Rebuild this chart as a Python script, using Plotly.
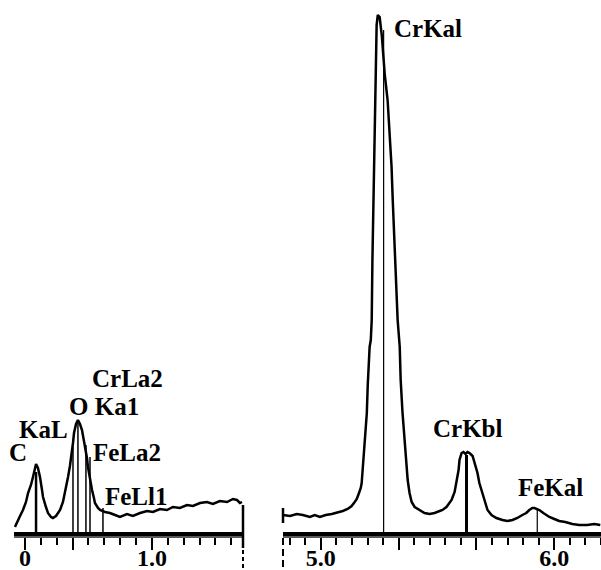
import plotly.graph_objects as go

# ---- Data (energy in keV, intensity in arbitrary counts) ----
low_energy = [-0.079, -0.063, -0.039, -0.016, 0.008, 0.024, 0.047, 0.063, 0.079, 0.087,
              0.102, 0.118, 0.134, 0.142, 0.165, 0.181, 0.205, 0.220, 0.244, 0.260,
              0.276, 0.299, 0.315, 0.331, 0.339, 0.354, 0.370, 0.378, 0.386, 0.402,
              0.417, 0.433, 0.449, 0.465, 0.472, 0.488, 0.496, 0.512, 0.528, 0.543,
              0.551, 0.575, 0.591, 0.630, 0.669, 0.709, 0.748, 0.803, 0.850, 0.906,
              0.961, 1.008, 1.063, 1.118, 1.165, 1.220, 1.276, 1.323, 1.378, 1.433,
              1.480, 1.535, 1.591, 1.638, 1.669, 1.693, 1.709]
low_counts = [5, 10, 16, 22, 30, 39, 47, 55, 65, 68,
              64, 55, 42, 35, 25, 19, 15, 14, 16, 19,
              22, 30, 39, 48, 55, 66, 79, 89, 99, 108,
              112, 108, 102, 92, 85, 74, 65, 52, 42, 34,
              29, 24, 22, 20, 19, 17, 15, 18, 16, 19,
              21, 20, 23, 22, 25, 24, 27, 26, 29, 30,
              28, 31, 30, 33, 32, 29, 30]

high_energy = [4.838, 4.868, 4.897, 4.923, 4.953, 4.974, 4.996, 5.021, 5.047, 5.068,
               5.094, 5.115, 5.132, 5.145, 5.154, 5.162, 5.171, 5.175, 5.179, 5.184,
               5.188, 5.197, 5.201, 5.209, 5.214, 5.218, 5.221, 5.223, 5.226, 5.229,
               5.232, 5.235, 5.239, 5.244, 5.252, 5.261, 5.265, 5.274, 5.286, 5.295,
               5.303, 5.308, 5.316, 5.325, 5.329, 5.338, 5.342, 5.350, 5.359, 5.368,
               5.372, 5.380, 5.389, 5.402, 5.423, 5.444, 5.466, 5.487, 5.509, 5.521,
               5.538, 5.551, 5.560, 5.573, 5.581, 5.590, 5.594, 5.603, 5.611, 5.620,
               5.628, 5.637, 5.650, 5.658, 5.671, 5.679, 5.692, 5.705, 5.714, 5.731,
               5.752, 5.778, 5.799, 5.821, 5.842, 5.863, 5.880, 5.893, 5.906, 5.915,
               5.927, 5.936, 5.953, 5.966, 5.979, 6.000, 6.021, 6.047, 6.077, 6.107,
               6.141, 6.171, 6.197]
high_counts = [17, 16, 18, 17, 15, 17, 15, 17, 18, 19,
               21, 23, 26, 30, 33, 38, 44, 49, 62, 75,
               92, 119, 147, 185, 192, 212, 272, 299, 332, 365,
               432, 472, 507, 517, 515, 497, 482, 457, 432, 402,
               365, 332, 282, 242, 212, 185, 152, 119, 92, 69,
               52, 39, 30, 25, 22, 19, 18, 19, 21, 22,
               25, 29, 32, 40, 49, 62, 72, 79, 80, 78,
               80, 79, 76, 69, 59, 49, 39, 29, 22, 17,
               14, 12, 11, 12, 14, 17, 19, 22, 24, 24,
               23, 22, 19, 17, 15, 13, 11, 10, 8, 7,
               7, 8, 7]

# element marker lines: energy, height
low_lines_thick_e = [0.087]
low_lines_thick_h = [60]
low_lines_thin_e = [0.378, 0.417, 0.480, 0.512, 0.614]
low_lines_thin_h = [85, 112, 87, 75, 24]
high_lines_thick_e = [5.624]
high_lines_thick_h = [77]
high_lines_thin_e = [5.269, 5.927]
high_lines_thin_h = [502, 22]

low_labels = ["C", "KaL", "O Ka1", "CrLa2", "FeLa2", "FeLl1"]
low_label_e = [-0.055, 0.142, 0.622, 0.811, 0.803, 0.882]
low_label_c = [80, 103, 126, 154, 80, 36]
high_labels = ["CrKal", "CrKbl", "FeKal"]
high_label_e = [5.457, 5.632, 5.983]
high_label_c = [504, 104, 45]

low_tickvals = [0, 0.375, 1.0]
low_ticktext = ["0", "", "1.0"]
high_tickvals = [5.0, 5.0 + 1/3, 5.0 + 2/3, 6.0]
high_ticktext = ["5.0", "", "", "6.0"]


def stems(es, hs):
    xs, ys = [], []
    for e, h in zip(es, hs):
        xs += [e, e, None]
        ys += [0, h, None]
    return xs, ys


fig = go.Figure()
fig.add_trace(go.Scatter(x=low_energy, y=low_counts, mode="lines",
                         line=dict(color="black", width=2.5), xaxis="x", yaxis="y"))
fig.add_trace(go.Scatter(x=high_energy, y=high_counts, mode="lines",
                         line=dict(color="black", width=2.5), xaxis="x2", yaxis="y2"))
for es, hs, w, ax, ay in [(low_lines_thick_e, low_lines_thick_h, 2.5, "x", "y"),
                          (low_lines_thin_e, low_lines_thin_h, 1.5, "x", "y"),
                          (high_lines_thick_e, high_lines_thick_h, 3, "x2", "y2"),
                          (high_lines_thin_e, high_lines_thin_h, 1.2, "x2", "y2")]:
    xs, ys = stems(es, hs)
    fig.add_trace(go.Scatter(x=xs, y=ys, mode="lines", line=dict(color="black", width=w),
                             xaxis=ax, yaxis=ay))

lab_font = dict(family="Liberation Serif", size=25, color="black", weight="bold")
tick_font = dict(family="Liberation Serif", size=24, color="black", weight="bold")
for t, e, c in zip(low_labels, low_label_e, low_label_c):
    fig.add_annotation(x=e, y=c, xref="x", yref="y", text=t, showarrow=False, font=lab_font)
for t, e, c in zip(high_labels, high_label_e, high_label_c):
    fig.add_annotation(x=e, y=c, xref="x2", yref="y2", text=t, showarrow=False, font=lab_font)

W, H = 601, 570
B = 38
PH = H - B
L0, L1, R0 = 14 / W, 243 / W, 283 / W

axis_common = dict(showline=True, linewidth=6, linecolor="black", ticks="outside",
                   ticklen=12, tickwidth=2, tickcolor="black", showgrid=False,
                   zeroline=False, tickfont=tick_font, ticklabelstandoff=-13,
                   automargin=False, fixedrange=True)
fig.update_layout(
    width=W, height=H,
    margin=dict(l=0, r=0, t=0, b=B, autoexpand=False),
    paper_bgcolor="white", plot_bgcolor="white",
    showlegend=False,
    xaxis=dict(domain=[L0, L1], range=[-0.0866, 1.717], tickmode="array",
               tickvals=low_tickvals, ticktext=low_ticktext,
               minor=dict(ticks="outside", tickmode="linear", tick0=0, dtick=0.125,
                          ticklen=7, tickwidth=1.5, tickcolor="black"),
               anchor="y", **axis_common),
    xaxis2=dict(domain=[R0, 1.0], range=[4.838, 6.2], tickmode="array",
                tickvals=high_tickvals, ticktext=high_ticktext,
                minor=dict(ticks="outside", tickmode="linear", tick0=5.0, dtick=1 / 15,
                           ticklen=7, tickwidth=1.5, tickcolor="black"),
                anchor="y2", **axis_common),
    yaxis=dict(range=[0, PH], visible=False, domain=[0, 1], fixedrange=True, automargin=False),
    yaxis2=dict(range=[0, PH], visible=False, domain=[0, 1], anchor="x2", fixedrange=True,
                automargin=False),
)


def py(px):
    return (PH - px) / PH


shapes = [
    dict(type="line", xref="paper", yref="paper", x0=L0, x1=L1, y0=py(537), y1=py(537),
         line=dict(color="#777", width=1.5)),
    dict(type="line", xref="paper", yref="paper", x0=R0, x1=1.0, y0=py(537), y1=py(537),
         line=dict(color="#777", width=1.5)),
    dict(type="line", xref="paper", yref="paper", x0=L1, x1=L1, y0=py(505), y1=py(548),
         line=dict(color="black", width=2.5)),
    dict(type="line", xref="paper", yref="paper", x0=L1, x1=L1, y0=py(550), y1=py(570),
         line=dict(color="black", width=2, dash="4px,3px")),
    dict(type="line", xref="paper", yref="paper", x0=R0, x1=R0, y0=py(508), y1=py(523),
         line=dict(color="black", width=2.5)),
    dict(type="line", xref="paper", yref="paper", x0=R0, x1=R0, y0=py(538), y1=py(570),
         line=dict(color="black", width=2, dash="7px,4px")),
]
fig.update_layout(shapes=shapes)

fig.write_html("out.html")
